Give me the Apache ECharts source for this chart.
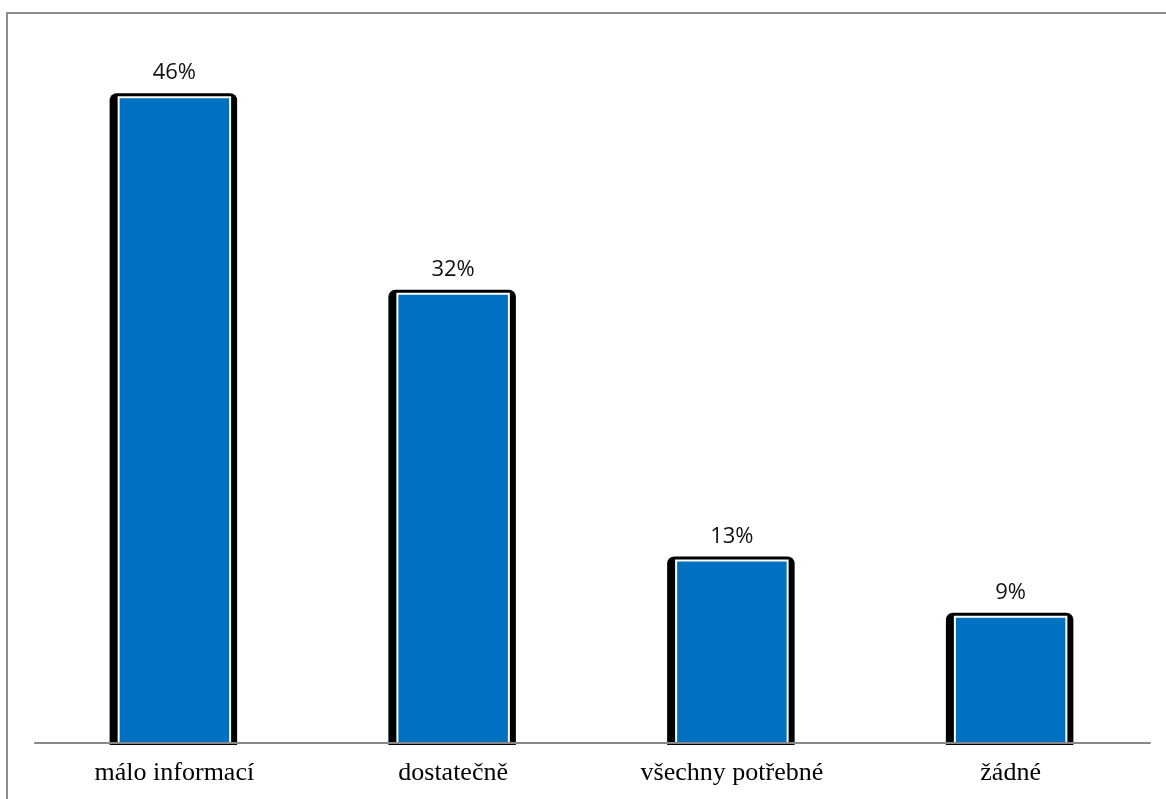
<!DOCTYPE html>
<html>
<head>
<meta charset="utf-8">
<script src="https://cdn.jsdelivr.net/npm/echarts@6/dist/echarts.min.js"></script>
<style>
  html, body { margin: 0; padding: 0; background: #fff; }
  #chart { width: 1166px; height: 799px; }
</style>
</head>
<body>
<div id="chart"></div>
<script>
// Share of answers per category (percent)
const categories = ['málo informací', 'dostatečně', 'všechny potřebné', 'žádné'];
const shares = [46, 32, 13, 9];

const chart = echarts.init(document.getElementById('chart'), null, { renderer: 'canvas' });

// Each bar: a dark rounded backing plate with a white-edged blue face on top
function renderBar(params, api) {
  const idx = api.value(0);
  const val = api.value(1);
  const top = api.coord([idx, val]);
  const base = api.coord([idx, 0]);
  const band = api.size([1, 0])[0];
  const w = band * 0.4;
  const cx = top[0];
  return {
    type: 'group',
    children: [
      {
        type: 'rect',
        shape: { x: cx - w / 2 - 9, y: top[1] - 4, width: w + 16, height: base[1] - top[1] + 6, r: [7, 7, 0, 0] },
        style: { fill: '#000' }
      },
      {
        type: 'rect',
        shape: { x: cx - w / 2, y: top[1], width: w, height: base[1] - top[1] },
        style: { fill: '#0070C0', stroke: '#fff', lineWidth: 2 }
      },
      {
        type: 'text',
        style: {
          x: cx, y: top[1] - 13,
          text: val + '%',
          align: 'center', verticalAlign: 'bottom',
          fill: '#111', font: '22px "Open Sans"'
        }
      }
    ]
  };
}

chart.setOption({
  animation: false,
  grid: { left: 35, right: 16, top: 41, bottom: 56 },
  graphic: [{
    type: 'rect',
    shape: { x: 7, y: 13, width: 1300, height: 900 },
    style: { fill: 'none', stroke: '#8c8c8c', lineWidth: 2 },
    z: 100
  }],
  xAxis: {
    type: 'category',
    data: categories,
    z: 10,
    axisLine: { show: true, lineStyle: { color: '#888', width: 2 } },
    axisTick: { show: false },
    axisLabel: { color: '#000', fontFamily: 'Liberation Serif', fontSize: 26, margin: 17 }
  },
  yAxis: {
    type: 'value',
    min: 0, max: 50,
    show: false,
    splitLine: { show: false }
  },
  series: [{
    type: 'custom',
    renderItem: renderBar,
    data: shares.map((v, i) => [i, v]),
    encode: { x: 0, y: 1 }
  }]
});
</script>
</body>
</html>
